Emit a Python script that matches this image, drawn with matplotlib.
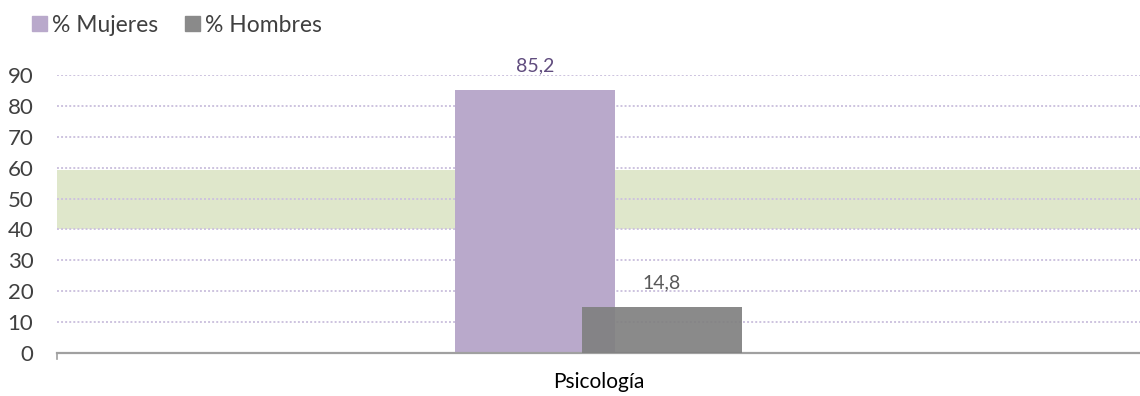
import matplotlib.pyplot as plt
from matplotlib.patches import Patch

categories = ["Psicología"]
mujeres = [85.2]
hombres = [14.8]
labels_m = ["85,2"]
labels_h = ["14,8"]
band = (40, 59.3)

plt.rcParams["font.family"] = ["Lato", "DejaVu Sans"]

fig = plt.figure(figsize=(11.4, 3.96), dpi=100)
ax = fig.add_axes([0.05, 0.1086, 0.95, 0.702])

x = list(range(len(categories)))
w = 0.148
off = 0.0585

ax.axhspan(band[0], band[1], color="#dfe7cb", zorder=0, lw=0)
for y in range(10, 100, 10):
    ax.axhline(y, color="#cdc3df", lw=1.4, ls=(0, (1, 1.1)), zorder=1)

bm = ax.bar([i - off for i in x], mujeres, w, color="#b9a9cb", zorder=2)
bh = ax.bar([i + off for i in x], hombres, w, color="#808080", alpha=0.92, zorder=3, lw=0)

for b, t in zip(bm, labels_m):
    ax.text(b.get_x() + b.get_width() / 2, b.get_height() + 5.0, t, ha="center", va="bottom",
            fontsize=14, color="#604c7e", clip_on=False)
for b, t in zip(bh, labels_h):
    ax.text(b.get_x() + b.get_width() / 2, b.get_height() + 5.0, t, ha="center", va="bottom",
            fontsize=14, color="#595959")

ax.set_xlim(-0.5, 0.5)
ax.set_ylim(0, 90)
ax.set_yticks(range(0, 100, 10))
ax.set_xticks(x)
ax.set_xticklabels(categories, fontsize=15, color="#000000")
ax.tick_params(axis="x", length=0, pad=14)
ax.tick_params(axis="y", length=0, labelsize=16, labelcolor="#404040", pad=17)
for s in ["top", "right", "left"]:
    ax.spines[s].set_visible(False)
ax.spines["bottom"].set_color("#a0a0a0")
ax.spines["bottom"].set_linewidth(1.6)
ax.plot([-0.5, -0.5], [0, -2], color="#a0a0a0", lw=1.2, clip_on=False)

handles = [Patch(color="#b9a9cb"), Patch(color="#8a8a8a")]
fig.legend(handles, ["% Mujeres", "% Hombres"], loc="upper left", bbox_to_anchor=(0.01, 1.015),
           ncol=2, frameon=False, fontsize=16.5, handlelength=0.65, handleheight=0.65,
           handletextpad=0.2, columnspacing=1.2, labelcolor="#404040")

fig.savefig("out.png", dpi=100)
